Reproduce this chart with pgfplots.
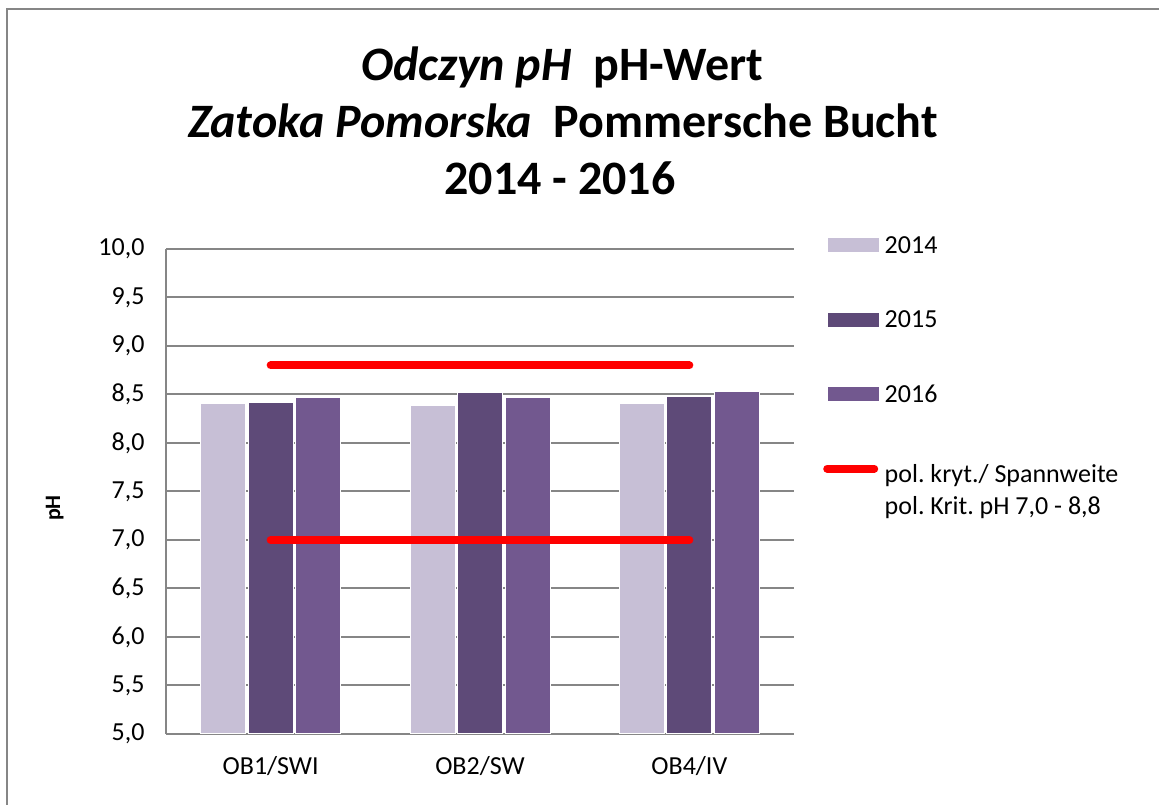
\documentclass[border=0pt]{standalone}
\usepackage{fontspec}
\setmainfont{Carlito}
\usepackage{pgfplots}
\pgfplotsset{compat=1.18}
\definecolor{cA}{HTML}{C7BFD6}
\definecolor{cB}{HTML}{5E4A78}
\definecolor{cC}{HTML}{72588F}
\definecolor{gridc}{HTML}{868686}
\frenchspacing
\begin{document}
\begin{tikzpicture}
\useasboundingbox (0,0) rectangle (1159bp,805bp);
\fill[white] (0,0) rectangle (1159bp,805bp);
\draw[gridc, line width=2.5bp] (7bp,0) -- (7bp,796bp) -- (1159bp,796bp);
\begin{axis}[
  at={(166bp,71bp)}, anchor=south west,
  width=628bp, height=485bp, scale only axis,
  xmin=0.5, xmax=3.5, ymin=5, ymax=10,
  xtick={1,2,3}, xticklabels={OB1/SWI,OB2/SW,OB4/IV},
  ytick={5,5.5,6,6.5,7,7.5,8,8.5,9,9.5,10},
  major tick length=0pt,
  axis lines*=left, axis line style={-, gridc, line width=2bp},
  ymajorgrids, major grid style={gridc, line width=2bp},
  /pgf/number format/.cd, fixed, fixed zerofill, precision=1, use comma, assume math mode=true,
  /pgfplots/.cd,
  tick label style={font=\fontsize{26bp}{31bp}\selectfont},
  yticklabel style={xshift=-18bp},
  xticklabel style={yshift=-19bp},
  ylabel={pH},
  ylabel style={at={(axis description cs:-0.177,0.466)}, anchor=center, font=\fontsize{22bp}{26bp}\selectfont\bfseries},
  legend style={at={(axis description cs:1.0462,1.031)}, anchor=north west, draw=none, fill=none,
    inner sep=0pt, row sep=52bp, font=\fontsize{26bp}{32bp}\selectfont,
    /tikz/every odd column/.append style={column sep=4bp}},
  legend cell align=left,
]
\addplot[ybar, bar width=45bp, bar shift=-47.5bp, fill=cA, draw=white, line width=1bp,
  legend image code/.code={\fill[cA] (0bp,-6.5bp) rectangle (50bp,6.5bp);}]
  coordinates {(1,8.41) (2,8.39) (3,8.41)};
\addlegendentry{2014}
\addplot[ybar, bar width=45bp, bar shift=0bp, fill=cB, draw=white, line width=1bp,
  legend image code/.code={\fill[cB] (0bp,-6.5bp) rectangle (50bp,6.5bp);}]
  coordinates {(1,8.42) (2,8.52) (3,8.48)};
\addlegendentry{2015}
\addplot[ybar, bar width=45bp, bar shift=47.5bp, fill=cC, draw=white, line width=1bp,
  legend image code/.code={\fill[cC] (0bp,-6.5bp) rectangle (50bp,6.5bp);}]
  coordinates {(1,8.47) (2,8.47) (3,8.53)};
\addlegendentry{2016}
\addplot[red, line width=8bp, line cap=round,
  legend image code/.code={\draw[red, line width=8bp, line cap=round] (-1bp,11bp) -- (46bp,11bp);}]
  coordinates {(1,8.8) (3,8.8)};
\addlegendentry{\begin{tabular}{@{}l@{}}pol. kryt./ Spannweite\\pol. Krit. pH 7,0 - 8,8\end{tabular}}
\addplot[red, line width=8bp, line cap=round, forget plot]
  coordinates {(1,7.0) (3,7.0)};
\end{axis}
\node[anchor=base, font=\fontsize{48bp}{56bp}\selectfont\bfseries] at (562bp,724bp) {\textit{Odczyn pH}\ \ pH-Wert};
\node[anchor=base, font=\fontsize{48bp}{56bp}\selectfont\bfseries] at (563bp,667bp) {\textit{Zatoka Pomorska}\ \ Pommersche Bucht};
\node[anchor=base, font=\fontsize{48bp}{56bp}\selectfont\bfseries] at (560bp,610bp) {2014 - 2016};
\end{tikzpicture}
\end{document}
